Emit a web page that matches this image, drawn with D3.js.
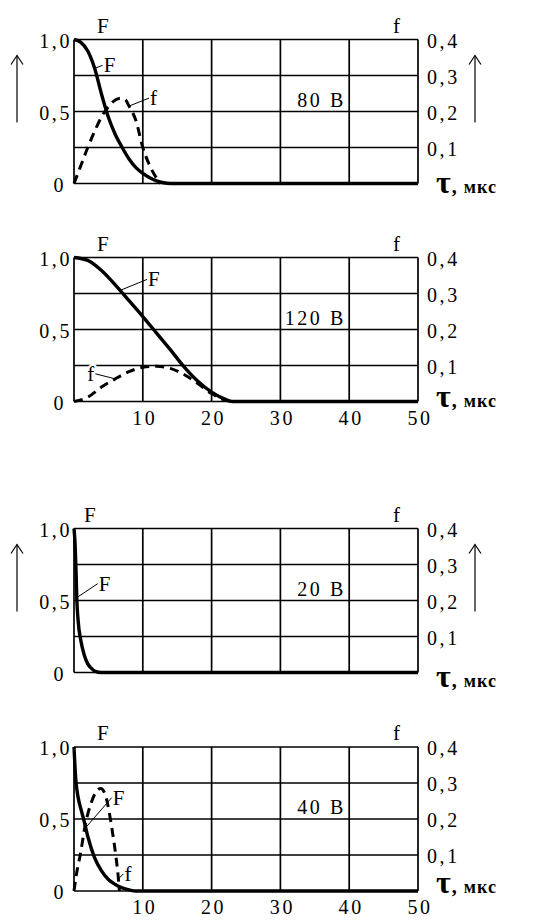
<!DOCTYPE html>
<html>
<head>
<meta charset="utf-8">
<script src="https://cdn.jsdelivr.net/npm/d3@7"></script>
<style>
  html, body { margin: 0; padding: 0; background: #fff; }
  svg { display: block; }
  text { font-family: "Liberation Serif", "Times New Roman", "DejaVu Serif", serif; }
  .num { font-size: 20px; letter-spacing: 2.6px; fill: #000; }
  .lbl { font-size: 21px; fill: #000; }
  .halo { paint-order: stroke; stroke: #fff; stroke-width: 4px; stroke-linejoin: round; }
</style>
</head>
<body>
<svg id="chart" width="556" height="920"></svg>
<script>
// Axis ticks
const tauTicks = [10, 20, 30, 40, 50];
const FTicks = [0, 0.5, 1.0];
const fTicks = [0.1, 0.2, 0.3, 0.4];
const FGrid = [0, 0.25, 0.5, 0.75, 1.0];
const tauGrid = [0, 10, 20, 30, 40, 50];

// Panel captions (anode voltage)
const voltages = ["80 В", "120 В", "20 В", "40 В"];

// 80 В
const tF80 = [0, 1, 2, 3, 4, 5, 6, 7, 8, 9, 10, 11, 12, 13, 14, 50];
const F80  = [1.0, 0.98, 0.92, 0.80, 0.62, 0.46, 0.34, 0.25, 0.17, 0.11, 0.07, 0.04, 0.018, 0.005, 0, 0];
const tf80 = [0, 1, 2, 3, 4, 5, 6, 6.8, 7.5, 8, 9, 10, 11, 12, 12.6];
const f80  = [0, 0.05, 0.1, 0.145, 0.185, 0.213, 0.232, 0.237, 0.232, 0.215, 0.175, 0.10, 0.05, 0.015, 0];

// 120 В
const tF120 = [0, 2, 4, 6, 8, 10, 12, 14, 16, 18, 20, 22, 23, 50];
const F120  = [1.0, 0.98, 0.91, 0.81, 0.70, 0.59, 0.475, 0.36, 0.24, 0.14, 0.065, 0.015, 0, 0];
const tf120 = [0, 2, 4, 6, 8, 10, 12, 14, 16, 18, 20, 22, 23];
const f120  = [0, 0.012, 0.04, 0.063, 0.083, 0.095, 0.098, 0.092, 0.075, 0.05, 0.022, 0.003, 0];

// 20 В
const tF20 = [0, 0.15, 0.3, 0.4, 0.6, 1.0, 1.5, 2.0, 2.5, 3.0, 4.0, 50];
const F20  = [1.0, 0.9, 0.7, 0.52, 0.36, 0.22, 0.12, 0.06, 0.03, 0.01, 0, 0];

// 40 В
const tF40 = [0, 0.25, 0.6, 1, 1.5, 2, 3, 4, 5, 6, 7, 8, 9, 50];
const F40  = [1.0, 0.78, 0.65, 0.57, 0.48, 0.38, 0.23, 0.14, 0.08, 0.045, 0.022, 0.008, 0, 0];
const tf40 = [0, 0.3, 1.0, 1.6, 2.5, 3.3, 3.9, 4.5, 5.2, 5.7, 6.1, 6.4, 6.6];
const f40  = [0, 0.04, 0.11, 0.18, 0.245, 0.278, 0.285, 0.27, 0.21, 0.15, 0.095, 0.045, 0];

const fmt = v => (v === 0 ? "0" : d3.format(".1f")(v).replace(".", ","));

const svg = d3.select("#chart");
const left = 74, right = 418, height = 144;

const panels = [
  { top: 39.5, tF: tF80,  F: F80,  tf: tf80,  f: f80,  volt: voltages[0], arrows: true,  xTicks: false, topF: 97,
    Flead: { t: 3.0, dx: 8, dy: -3 }, flead: { t: 8.0, dx: 20, dy: -8, side: "right" }, tau: 9 },
  { top: 257.5, tF: tF120, F: F120, tf: tf120, f: f120, volt: voltages[1], arrows: false, xTicks: true, topF: 97,
    Flead: { t: 6.7, dx: 27, dy: -11 }, flead: { t: 6.0, dx: -20, dy: -5, side: "left" }, tau: 5 },
  { top: 528.5, tF: tF20,  F: F20,  tf: null,  f: null, volt: voltages[2], arrows: true,  xTicks: false, topF: 84,
    Flead: { t: 0.4, dx: 21, dy: -14 }, flead: null, tau: 14 },
  { top: 747,   tF: tF40,  F: F40,  tf: tf40,  f: f40,  volt: voltages[3], arrows: false, xTicks: true, topF: 97,
    Flead: { t: 1.7, dx: 26, dy: -30 }, flead: { t: 6.45, dx: 5, dy: -5, side: "right" }, tau: 2 }
];

const x = d3.scaleLinear().domain([0, 50]).range([left, right]);

function interp(ts, vs, t) {
  for (let i = 1; i < ts.length; i++) {
    if (t <= ts[i]) {
      const k = (t - ts[i - 1]) / (ts[i] - ts[i - 1]);
      return vs[i - 1] + k * (vs[i] - vs[i - 1]);
    }
  }
  return vs[vs.length - 1];
}

function arrow(g, cx, y1, y2) {
  g.append("line").attr("x1", cx).attr("x2", cx).attr("y1", y1).attr("y2", y2)
    .attr("stroke", "#000").attr("stroke-width", 1.2);
  g.append("path").attr("d", `M${cx - 6},${y2 + 9} L${cx},${y2} L${cx + 6},${y2 + 9}`)
    .attr("fill", "none").attr("stroke", "#000").attr("stroke-width", 1.2);
}

panels.forEach(p => {
  const yF = d3.scaleLinear().domain([0, 1]).range([p.top + height, p.top]);
  const yf = d3.scaleLinear().domain([0, 0.4]).range([p.top + height, p.top]);
  const g = svg.append("g");

  // grid
  g.selectAll(".hg").data(FGrid).enter().append("line")
    .attr("x1", left).attr("x2", right)
    .attr("y1", d => yF(d)).attr("y2", d => yF(d))
    .attr("stroke", "#000").attr("stroke-width", 1.7);
  g.selectAll(".vg").data(tauGrid).enter().append("line")
    .attr("x1", d => x(d)).attr("x2", d => x(d))
    .attr("y1", p.top).attr("y2", p.top + height)
    .attr("stroke", "#000").attr("stroke-width", 1.7);

  // left axis (F)
  g.selectAll(".lt").data(FTicks).enter().append("text")
    .attr("class", "num")
    .attr("x", d => d === 0 ? left - 8 : left - 2)
    .attr("y", d => yF(d) + 8)
    .attr("text-anchor", "end")
    .text(fmt);
  // right axis (f)
  g.selectAll(".rt").data(fTicks).enter().append("text")
    .attr("class", "num")
    .attr("x", right + 9)
    .attr("y", d => yf(d) + 8)
    .text(fmt);

  // axis names
  g.append("text").attr("class", "lbl").attr("x", p.topF).attr("y", p.top - 7).text("F");
  g.append("text").attr("class", "lbl").attr("x", 393).attr("y", p.top - 7).text("f");

  if (p.arrows) {
    arrow(g, 17, p.top + 83, p.top + 16);
    arrow(g, 475, p.top + 83, p.top + 16);
  }

  if (p.xTicks) {
    g.selectAll(".xt").data(tauTicks).enter().append("text")
      .attr("class", "num")
      .attr("x", d => x(d) + 2)
      .attr("y", p.top + height + 23)
      .attr("text-anchor", "middle")
      .text(d => d);
  }

  // τ, мкс
  const tt = g.append("text").attr("x", 436).attr("y", p.top + height + p.tau)
    .attr("font-weight", "bold");
  tt.append("tspan").attr("font-size", 32).text("τ");
  tt.append("tspan").attr("font-size", 20).attr("dx", 1).text(",");
  tt.append("tspan").attr("font-size", 18).attr("dx", 7).attr("letter-spacing", 1).text("мкс");

  // voltage caption
  g.append("text").attr("class", "num").attr("x", 346).attr("y", p.top + 67)
    .attr("text-anchor", "end").text(p.volt);

  // curves
  const lineF = d3.line().x((d, i) => x(p.tF[i])).y(d => yF(d)).curve(d3.curveMonotoneX);
  g.append("path").attr("d", lineF(p.F))
    .attr("fill", "none").attr("stroke", "#000").attr("stroke-width", 3.4)
    .attr("stroke-linejoin", "round");

  if (p.f) {
    const linef = d3.line().x((d, i) => x(p.tf[i])).y(d => yf(d)).curve(d3.curveMonotoneX);
    g.append("path").attr("d", linef(p.f))
      .attr("fill", "none").attr("stroke", "#000").attr("stroke-width", 3)
      .attr("stroke-dasharray", "9,6");
  }

  // curve labels with leaders
  const fx = x(p.Flead.t), fy = yF(interp(p.tF, p.F, p.Flead.t));
  g.append("line").attr("x1", fx).attr("y1", fy)
    .attr("x2", fx + p.Flead.dx).attr("y2", fy + p.Flead.dy)
    .attr("stroke", "#000").attr("stroke-width", 1);
  g.append("text").attr("class", "lbl halo")
    .attr("x", fx + p.Flead.dx + 1).attr("y", fy + p.Flead.dy + 7).text("F");

  if (p.flead) {
    const gx = x(p.flead.t), gy = yf(interp(p.tf, p.f, p.flead.t));
    g.append("line").attr("x1", gx).attr("y1", gy)
      .attr("x2", gx + p.flead.dx).attr("y2", gy + p.flead.dy)
      .attr("stroke", "#000").attr("stroke-width", 1);
    g.append("text").attr("class", "lbl halo")
      .attr("x", gx + p.flead.dx + (p.flead.side === "left" ? -1 : 1))
      .attr("y", gy + p.flead.dy + 7)
      .attr("text-anchor", p.flead.side === "left" ? "end" : "start")
      .text("f");
  }
});
</script>
</body>
</html>
